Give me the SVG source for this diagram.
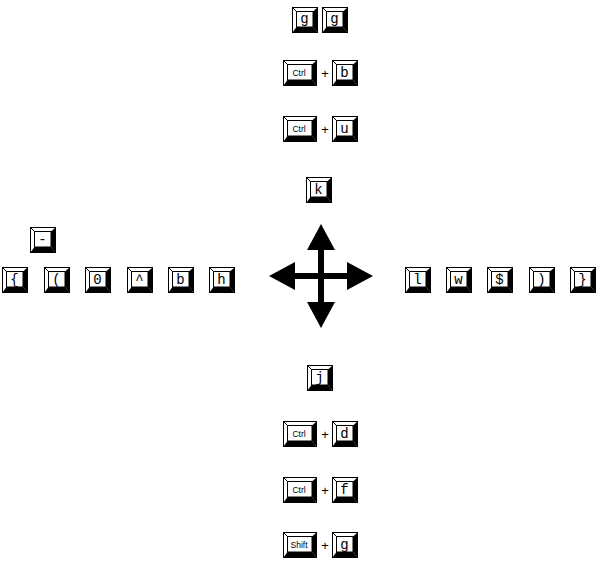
<svg xmlns="http://www.w3.org/2000/svg" xmlns:xlink="http://www.w3.org/1999/xlink" width="600" height="575" viewBox="0 0 600 575">
<style>
.t{font-family:"Liberation Mono","DejaVu Sans Mono",monospace;font-size:14px;fill:#000;text-anchor:middle}
.s{font-family:"Liberation Sans","DejaVu Sans",sans-serif;font-size:8.5px;fill:#000;text-anchor:middle}
.p{font-family:"Liberation Sans","DejaVu Sans",sans-serif;font-size:13px;fill:#000;text-anchor:middle}
</style>
<defs>
<g id="key">
<rect x="0.5" y="0.5" width="25" height="25" fill="#fff" stroke="#000"/>
<polygon points="21,4.5 25.5,0.5 25.5,25.5 21,20" fill="#000"/>
<polygon points="4.5,20 21,20 25.5,25.5 0.5,25.5" fill="#000"/>
<rect x="4.5" y="4.5" width="16.5" height="15.5" fill="#fff" stroke="#000"/>
<line x1="0.5" y1="0.5" x2="4.5" y2="4.5" stroke="#000"/>
</g>
<g id="wkey">
<rect x="0.5" y="0.5" width="33" height="25" fill="#fff" stroke="#000"/>
<polygon points="29,4.5 33.5,0.5 33.5,25.5 29,20" fill="#000"/>
<polygon points="4.5,20 29,20 33.5,25.5 0.5,25.5" fill="#000"/>
<rect x="4.5" y="4.5" width="24.5" height="15.5" fill="#fff" stroke="#000"/>
<line x1="0.5" y1="0.5" x2="4.5" y2="4.5" stroke="#000"/>
</g>
</defs>
<g id="connectors">
<rect x="318" y="248" width="6" height="56" fill="#000"/>
<rect x="293" y="273" width="56" height="6" fill="#000"/>
<polygon points="321,224 307,250 335,250" fill="#000"/>
<polygon points="321,328 307,302 335,302" fill="#000"/>
<polygon points="269,276 295,262 295,290" fill="#000"/>
<polygon points="373,276 347,262 347,290" fill="#000"/>
</g>
<g id="gg">
<use xlink:href="#key" x="292" y="7"/><text class="t" x="304.5" y="23">g</text>
<use xlink:href="#key" x="322" y="7"/><text class="t" x="334.5" y="23">g</text>
</g>
<g id="ctrl-b">
<use xlink:href="#wkey" x="283" y="60"/><text class="s" x="299" y="76">Ctrl</text>
<text class="p" x="325" y="78">+</text>
<use xlink:href="#key" x="332" y="60"/><text class="t" x="344.5" y="77">b</text>
</g>
<g id="ctrl-u">
<use xlink:href="#wkey" x="283" y="116"/><text class="s" x="299" y="132">Ctrl</text>
<text class="p" x="325" y="134">+</text>
<use xlink:href="#key" x="332" y="116"/><text class="t" x="344.5" y="133">u</text>
</g>
<g id="k">
<use xlink:href="#key" x="306" y="177"/><text class="t" x="318.5" y="194">k</text>
</g>
<g id="minus">
<use xlink:href="#key" x="30" y="227"/><text class="t" x="42.5" y="244">-</text>
</g>
<g id="left-row">
<use xlink:href="#key" x="2" y="267"/><text class="t" x="14.5" y="284">{</text>
<use xlink:href="#key" x="44" y="267"/><text class="t" x="56.5" y="284">(</text>
<use xlink:href="#key" x="85" y="267"/><text class="t" x="97.5" y="284">0</text>
<use xlink:href="#key" x="127" y="267"/><text class="t" x="139.5" y="284">^</text>
<use xlink:href="#key" x="168" y="267"/><text class="t" x="180.5" y="284">b</text>
<use xlink:href="#key" x="209" y="267"/><text class="t" x="221.5" y="284">h</text>
</g>
<g id="right-row">
<use xlink:href="#key" x="405" y="267"/><text class="t" x="417.5" y="284">l</text>
<use xlink:href="#key" x="446" y="267"/><text class="t" x="458.5" y="284">w</text>
<use xlink:href="#key" x="487" y="267"/><text class="t" x="499.5" y="284">$</text>
<use xlink:href="#key" x="529" y="267"/><text class="t" x="541.5" y="284">)</text>
<use xlink:href="#key" x="570" y="267"/><text class="t" x="582.5" y="284">}</text>
</g>
<g id="j">
<use xlink:href="#key" x="307" y="365"/><text class="t" x="319.5" y="382">j</text>
</g>
<g id="ctrl-d">
<use xlink:href="#wkey" x="283" y="421"/><text class="s" x="299" y="437">Ctrl</text>
<text class="p" x="325" y="439">+</text>
<use xlink:href="#key" x="332" y="421"/><text class="t" x="344.5" y="438">d</text>
</g>
<g id="ctrl-f">
<use xlink:href="#wkey" x="283" y="477"/><text class="s" x="299" y="493">Ctrl</text>
<text class="p" x="325" y="495">+</text>
<use xlink:href="#key" x="332" y="477"/><text class="t" x="344.5" y="494">f</text>
</g>
<g id="shift-g">
<use xlink:href="#wkey" x="283" y="532"/><text class="s" x="299" y="548">Shift</text>
<text class="p" x="325" y="550">+</text>
<use xlink:href="#key" x="332" y="532"/><text class="t" x="344.5" y="549">g</text>
</g>
</svg>
